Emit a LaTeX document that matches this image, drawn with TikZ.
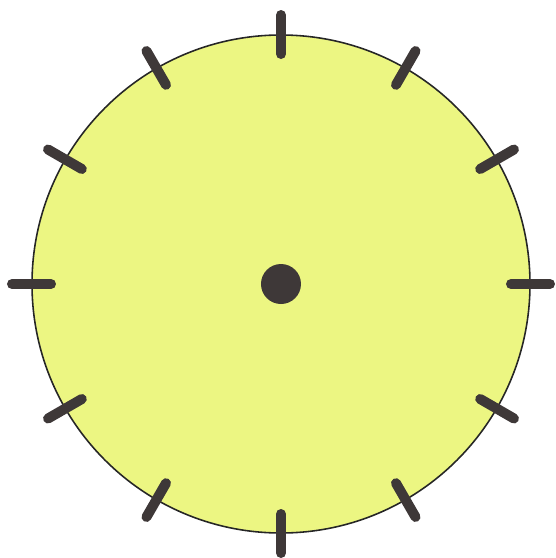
\documentclass[tikz,border=0pt]{standalone}
\usetikzlibrary{positioning}
\definecolor{dialfill}{RGB}{236,246,130}
\definecolor{markgray}{RGB}{62,56,56}

\begin{document}
\begin{tikzpicture}[
                face/.style={circle, draw=black!85, line width=0.9pt, fill=dialfill, minimum size=9.96cm, inner sep=0pt},
                hub/.style={circle, fill=markgray, minimum size=0.8cm, inner sep=0pt},
                hourmark/.style={line width=0.2cm, line cap=round, draw=markgray}
            ]
            \useasboundingbox (-5.62,-5.48) rectangle (5.48,5.68);

            % Dial with its centre
            \node[face] (dial) at (0, 0) {};
            \node[hub] (centre) at (dial.center) {};

            % Hour marks across the rim
            \foreach \h in {0,...,11}
                \draw[hourmark] (dial.center) ++(90-30*\h:4.6) -- ++(90-30*\h:0.78);
            \end{tikzpicture}
\end{document}
